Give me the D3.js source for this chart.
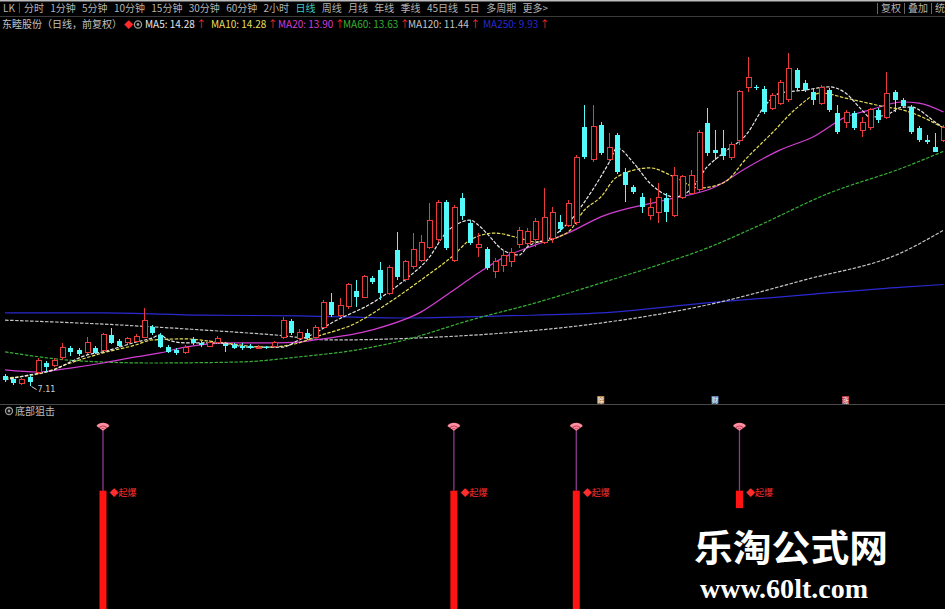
<!DOCTYPE html>
<html>
<head>
<meta charset="utf-8">
<script src="https://cdn.jsdelivr.net/npm/d3@7"></script>
<style>
html,body{margin:0;padding:0;background:#000;overflow:hidden}
svg{display:block}
</style>
</head>
<body>
<svg id="chart" width="945" height="609"></svg>
<script>
// ---- daily bars (前复权) ----
const openP = [7.39,7.31,7.17,7.36,7.50,7.75,7.69,7.89,8.17,8.11,
  8.03,8.17,8.11,8.53,8.36,8.31,8.36,8.47,8.75,8.53,
  8.19,8.11,8.03,8.42,8.31,8.22,8.31,8.28,8.25,8.22,
  8.22,8.17,8.19,8.22,8.47,8.92,8.44,8.58,8.47,8.75,
  9.44,9.08,9.31,9.75,9.58,10.11,10.33,9.69,10.89,10.06,
  10.42,10.61,10.97,11.17,12.22,10.61,12.33,11.64,10.97,10.92,
  10.28,10.47,10.56,11.03,11.08,11.17,11.11,11.22,11.67,11.58,
  11.64,14.31,13.39,14.36,13.39,14.08,13.06,12.64,12.36,11.86,
  11.92,12.33,11.86,12.36,12.47,12.56,14.42,13.67,13.72,13.47,
  13.94,15.39,15.42,15.36,14.83,14.97,15.06,15.89,15.53,15.28,
  14.97,15.33,14.69,14.44,14.69,14.22,14.28,14.78,14.58,15.28,
  15.06,14.86,14.28,13.94,13.75,13.94];
const highP = [7.44,7.36,7.33,7.42,7.89,7.81,7.89,8.31,8.22,8.17,
  8.47,8.22,8.58,8.72,8.42,8.47,8.56,9.28,8.81,8.58,
  8.25,8.17,8.25,8.47,8.36,8.39,8.50,8.33,8.31,8.31,
  8.28,8.25,8.22,8.36,9.03,8.97,8.69,8.69,8.81,9.50,
  9.69,9.56,9.97,10.06,10.19,10.17,10.56,10.47,11.39,10.61,
  11.36,11.31,12.19,12.28,12.28,12.14,12.47,11.72,11.36,10.97,
  10.67,10.89,10.94,11.53,11.50,11.78,12.61,12.08,11.86,12.28,
  13.53,14.92,14.92,14.44,14.14,14.14,13.17,12.69,12.47,12.33,
  12.75,12.47,13.19,12.97,13.11,14.22,14.83,14.22,14.22,13.89,
  15.33,16.25,15.47,15.44,15.25,15.61,16.36,15.94,15.61,15.39,
  15.47,15.39,14.92,14.78,14.75,14.58,14.83,14.83,15.83,15.33,
  15.11,14.92,14.33,14.08,14.14,14.36];
const lowP = [7.22,7.14,7.14,7.11,7.44,7.50,7.64,7.83,7.94,7.94,
  8.00,8.00,8.08,8.28,8.19,8.28,8.33,8.44,8.53,8.17,
  8.03,7.97,8.00,8.25,8.19,8.19,8.28,8.06,8.14,8.11,
  8.14,8.14,8.14,8.19,8.42,8.53,8.39,8.39,8.44,8.72,
  9.03,9.03,9.25,9.31,9.56,9.94,9.50,9.64,10.06,10.00,
  10.36,10.56,10.92,11.11,10.89,10.56,11.72,11.03,10.69,10.33,
  10.11,10.28,10.42,10.94,11.00,10.97,11.06,11.08,11.39,11.53,
  11.58,13.42,13.33,13.53,13.33,13.00,12.22,12.44,11.92,11.72,
  11.64,11.67,11.81,12.31,12.42,12.50,13.50,13.39,13.39,13.39,
  13.81,15.28,15.33,14.67,14.78,14.92,15.00,15.33,15.28,14.92,
  14.92,14.72,14.11,14.28,14.22,14.03,14.22,14.42,14.53,14.72,
  14.83,14.11,13.89,13.83,13.61,13.89];
const closeP = [7.28,7.19,7.28,7.22,7.81,7.64,7.83,8.17,8.06,8.00,
  8.33,8.03,8.53,8.31,8.22,8.42,8.50,8.94,8.58,8.19,
  8.06,8.03,8.19,8.31,8.25,8.33,8.44,8.22,8.17,8.17,
  8.17,8.19,8.17,8.31,8.94,8.58,8.61,8.44,8.75,9.42,
  9.08,9.36,9.92,9.58,10.14,10.00,9.69,10.39,10.14,10.56,
  10.89,11.11,11.72,12.22,10.94,12.08,11.83,11.08,11.03,10.39,
  10.56,10.75,10.83,11.44,11.39,11.67,11.78,11.94,11.47,12.19,
  13.47,13.47,14.31,13.58,13.75,13.06,12.69,12.50,12.08,12.08,
  12.36,11.94,12.97,12.92,12.97,14.14,13.58,13.58,13.50,13.81,
  15.28,15.69,15.39,14.72,15.19,15.53,15.94,15.39,15.33,15.06,
  15.39,14.78,14.17,14.72,14.28,14.42,14.78,14.50,15.25,15.06,
  14.89,14.17,13.94,13.89,13.61,14.28];

// ---- moving averages, sampled by bar index ----
const ma5Idx = [0,3,6,8,10,12,14,16,18,19,20,22,26,30,34,36,38,40,45,49,52,54,56,57,58,59,61,63,64,67,69,72,74,75,77,79,81,82,84,86,88,91,93,95,98,101,103,105,106,108,110,111,114,115];
const ma5Val = [7.28,7.42,7.56,7.78,7.97,8.06,8.19,8.33,8.44,8.53,8.39,8.31,8.31,8.19,8.19,8.39,8.58,8.86,9.42,10.06,10.69,11.36,11.67,11.72,11.58,11.36,10.89,10.75,10.97,11.25,11.64,12.56,13.31,13.72,13.31,12.75,12.42,12.36,12.56,13.19,13.58,14.14,14.86,15.25,15.33,15.42,15.25,14.78,14.58,14.64,14.86,14.86,14.44,14.28];
const ma10Idx = [0,5,8,12,16,18,22,26,32,36,38,43,47,51,55,57,60,63,65,69,71,73,75,79,82,85,88,91,94,97,100,103,108,110,112,115];
const ma10Val = [7.33,7.50,7.75,8.03,8.25,8.39,8.42,8.33,8.19,8.31,8.47,8.86,9.42,10.06,10.75,11.17,11.36,11.22,11.11,11.39,12.00,12.36,12.92,13.17,12.92,12.61,12.75,13.47,14.14,14.83,15.25,15.11,14.86,14.78,14.62,14.28];
const ma20Idx = [0,4,8,12,16,19,22,28,33,36,38,45,51,55,58,61,65,69,73,81,87,91,95,99,103,106,110,112,115];
const ma20Val = [7.56,7.50,7.61,7.75,7.92,8.03,8.19,8.31,8.31,8.33,8.39,8.67,9.17,9.78,10.25,10.67,11.03,11.36,11.81,12.28,12.64,13.19,13.67,14.03,14.58,14.78,15.00,14.97,14.72];
const ma60Idx = [0,9,18,29,36,43,49,57,65,73,80,86,92,101,110,115];
const ma60Val = [8.06,7.81,7.75,7.78,7.92,8.11,8.39,8.94,9.42,9.97,10.47,10.94,11.53,12.47,13.17,13.63];
const ma120Idx = [0,12,24,33,40,53,61,73,86,98,110,115];
const ma120Val = [8.94,8.83,8.67,8.53,8.39,8.47,8.58,8.86,9.36,10.06,10.83,11.44];
const ma250Idx = [0,12,24,36,49,61,73,86,98,110,115];
const ma250Val = [9.14,9.14,9.08,9.06,9.00,9.06,9.14,9.42,9.64,9.86,9.93];

const maNames = ["MA5","MA10","MA20","MA60","MA120","MA250"];
const maLegendVal = ["14.28","14.28","13.90","13.63","11.44","9.93"];
const maColors = ["#e6e6e6","#e8df5a","#d23ed2","#35b035","#c4c4c4","#2a2ad0"];

// ---- toolbar / titles ----
const periodTabs = ["LK","分时","1分钟","5分钟","10分钟","15分钟","30分钟","60分钟","2小时","日线","周线","月线","年线","季线","45日线","5日","多周期","更多>"];
const rightTabs = ["复权","叠加","统"];
const stockTitle = "东睦股份（日线，前复权）";
const subTitle = "底部狙击";

// ---- signal sub-chart ----
const sigIdx = [12,55,70,90];
const sigTop = [61,61,61,61];
const sigBottom = [0,0,0,52];
const sigIcon = [94,94,94,94];
const sigLabel = "◆起爆";

// ---- event markers on the price axis ----
const eventIdx = [73,87,103];
const eventChar = ["除","财","涨"];
const eventColor = ["#d69a5c","#6d95d4","#d8404e"];

const W = 945, H = 609;
const svg = d3.select("#chart");
svg.append("rect").attr("width", W).attr("height", H).attr("fill", "#000");

const n = closeP.length;
const step = 8.16;
const x = d3.scaleBand().domain(d3.range(n)).range([1, 1 + step * n])
  .paddingInner(0.36).paddingOuter(0.18);
const cx = i => x(i) + x.bandwidth() / 2;
const y = d3.scaleLinear().domain([7, 17]).range([390, 30]);
const yS = d3.scaleLinear().domain([0, 100]).range([609, 415]);

const cjk = "'Noto Sans CJK SC','Noto Sans',sans-serif";

// top frame line and toolbar
svg.append("rect").attr("x", 0).attr("y", 0).attr("width", W).attr("height", 1.5).attr("fill", "#bdbdbd");
svg.append("line").attr("x1", 0).attr("x2", W).attr("y1", 16.5).attr("y2", 16.5).attr("stroke", "#3a3a3a");

const tabs = svg.append("g").attr("font-family", cjk).attr("font-size", 10);
let tx = 3;
periodTabs.forEach((t, k) => {
  const el = tabs.append("text").attr("x", tx).attr("y", 12)
    .attr("fill", t === "日线" ? "#3fc8c8" : "#b4b4b4").text(t);
  const w = el.node().getComputedTextLength();
  if (k === 0) {
    tabs.append("line").attr("x1", tx + w + 4.5).attr("x2", tx + w + 4.5).attr("y1", 3).attr("y2", 13).attr("stroke", "#555");
  }
  tx += w + (k === 0 ? 9 : 6.3);
});
tabs.append("line").attr("x1", 877.5).attr("x2", 877.5).attr("y1", 3).attr("y2", 14).attr("stroke", "#666");
let rx = 881;
rightTabs.forEach((t, k) => {
  const el = tabs.append("text").attr("x", rx).attr("y", 12).attr("fill", "#b4b4b4").text(t);
  const w = el.node().getComputedTextLength();
  if (k < rightTabs.length - 1) {
    tabs.append("line").attr("x1", rx + w + 3.5).attr("x2", rx + w + 3.5).attr("y1", 3).attr("y2", 14).attr("stroke", "#666");
  }
  rx += w + 7;
});

// legend row
const leg = svg.append("g").attr("font-family", cjk).attr("font-size", 10);
leg.append("text").attr("x", 2).attr("y", 28).attr("fill", "#c2c2c2").text(stockTitle);
leg.append("text").attr("x", 124).attr("y", 28).attr("fill", "#ff2a2a").attr("font-size", 9).text("◆");
leg.append("circle").attr("cx", 138).attr("cy", 24.5).attr("r", 3.6).attr("fill", "none").attr("stroke", "#9a9a9a").attr("stroke-width", 1.3);
leg.append("circle").attr("cx", 138).attr("cy", 24.5).attr("r", 1.4).attr("fill", "#9a9a9a");
const legX = [145, 211, 278, 343, 408, 483];
maNames.forEach((m, k) => {
  const el = leg.append("text").attr("x", legX[k]).attr("y", 28).attr("fill", maColors[k])
    .text(m + ": " + maLegendVal[k]);
  const w = el.node().getComputedTextLength();
  leg.append("text").attr("x", legX[k] + w + 1.5).attr("y", 28).attr("fill", "#ff2a2a").text("↑");
});

// main price panel
const clip = svg.append("defs").append("clipPath").attr("id", "mainClip");
clip.append("rect").attr("x", 0).attr("y", 32).attr("width", W).attr("height", 371);
const main = svg.append("g").attr("clip-path", "url(#mainClip)");

const line = d3.line().x(d => cx(d[0])).y(d => y(d[1])).curve(d3.curveMonotoneX);
const maSeries = [
  [ma250Idx, ma250Val, 5], [ma120Idx, ma120Val, 4], [ma60Idx, ma60Val, 3],
  [ma20Idx, ma20Val, 2], [ma10Idx, ma10Val, 1], [ma5Idx, ma5Val, 0]
];
maSeries.forEach(([idx, val, k]) => {
  main.append("path").datum(idx.map((d, j) => [d, val[j]]))
    .attr("fill", "none").attr("stroke", maColors[k]).attr("stroke-width", 1.2)
    .attr("stroke-dasharray", (k === 0 || k === 1 || k === 3 || k === 4) ? "3.5,1.5" : null)
    .attr("d", line);
});

const upColor = "#ea3b3b", downColor = "#54fafa";
const bars = main.append("g").attr("shape-rendering", "crispEdges");
d3.range(n).forEach(i => {
  const up = closeP[i] >= openP[i];
  const col = up ? upColor : downColor;
  const xc = Math.round(cx(i)) + 0.5;
  bars.append("line").attr("x1", xc).attr("x2", xc)
    .attr("y1", y(highP[i])).attr("y2", y(lowP[i])).attr("stroke", col);
  const top = y(Math.max(openP[i], closeP[i]));
  const bot = y(Math.min(openP[i], closeP[i]));
  const bw = Math.round(x.bandwidth());
  bars.append("rect")
    .attr("x", xc - bw / 2).attr("y", top)
    .attr("width", bw).attr("height", Math.max(1, bot - top))
    .attr("fill", up ? "#000" : col)
    .attr("stroke", up ? col : "none");
});

// lowest price marker
const lo = d3.minIndex(lowP);
main.append("line").attr("x1", cx(lo) + 2).attr("x2", cx(lo) + 7)
  .attr("y1", y(lowP[lo]) + 0.5).attr("y2", y(lowP[lo]) + 3.5).attr("stroke", "#cfcfcf");
main.append("text").attr("x", cx(lo) + 8).attr("y", y(lowP[lo]) + 6)
  .attr("fill", "#cfcfcf").attr("font-size", 8).attr("font-family", "'DejaVu Sans',sans-serif")
  .text(lowP[lo].toFixed(2));

// event markers
eventIdx.forEach((e, k) => {
  const g = svg.append("g");
  g.append("rect").attr("x", cx(e) - 3.5).attr("y", 396).attr("width", 7).attr("height", 7.5)
    .attr("fill", eventColor[k]).attr("opacity", 0.85);
  g.append("text").attr("x", cx(e)).attr("y", 402.5).attr("text-anchor", "middle")
    .attr("font-size", 6.5).attr("font-family", cjk).attr("fill", "#fff").text(eventChar[k]);
});

// panel separator
svg.append("line").attr("x1", 0).attr("x2", W).attr("y1", 404.5).attr("y2", 404.5).attr("stroke", "#4a4a4a").attr("stroke-width", 1.2);

// signal sub-chart
const sub = svg.append("g");
sub.append("circle").attr("cx", 9).attr("cy", 411).attr("r", 3.5).attr("fill", "none").attr("stroke", "#9a9a9a").attr("stroke-width", 1.3);
sub.append("circle").attr("cx", 9).attr("cy", 411).attr("r", 1.4).attr("fill", "#9a9a9a");
sub.append("text").attr("x", 15).attr("y", 415).attr("font-family", cjk).attr("font-size", 10)
  .attr("fill", "#bdbdbd").text(subTitle);

const fan = d3.arc();
sigIdx.forEach((s, k) => {
  const xc = cx(s);
  sub.append("line").attr("x1", xc).attr("x2", xc)
    .attr("y1", yS(sigIcon[k])).attr("y2", yS(sigTop[k]))
    .attr("stroke", "#8c3a8c").attr("stroke-width", 1.3);
  sub.append("rect").attr("x", xc - 3.5).attr("y", yS(sigTop[k]))
    .attr("width", 7).attr("height", yS(sigBottom[k]) - yS(sigTop[k]))
    .attr("fill", "#ff1414");
  const ic = sub.append("g").attr("transform", `translate(${xc},${yS(sigIcon[k]) + 4})`);
  ic.append("path").attr("d", fan({innerRadius: 0, outerRadius: 8, startAngle: -0.95, endAngle: 0.95})).attr("fill", "#ff8f9f");
  ic.append("path").attr("d", fan({innerRadius: 4.2, outerRadius: 5.2, startAngle: -0.95, endAngle: 0.95})).attr("fill", "#c04060");
  ic.append("path").attr("d", fan({innerRadius: 1.8, outerRadius: 2.6, startAngle: -0.95, endAngle: 0.95})).attr("fill", "#c04060");
  sub.append("text").attr("x", xc + 6.5).attr("y", yS(sigTop[k]) + 5)
    .attr("font-family", cjk).attr("font-size", 9).attr("fill", "#ff2e2e").text(sigLabel);
});

// site mark
const mark = svg.append("g").attr("fill", "#fff");
mark.append("text").attr("x", 694).attr("y", 562).attr("font-family", cjk)
  .attr("font-size", 37).attr("font-weight", 700).attr("textLength", 194)
  .attr("lengthAdjust", "spacingAndGlyphs").text("乐淘公式网");
mark.append("text").attr("x", 700).attr("y", 598).attr("font-family", "'Liberation Serif',serif")
  .attr("font-size", 27).attr("font-weight", 700).attr("textLength", 168)
  .attr("lengthAdjust", "spacingAndGlyphs").text("www.60lt.com");
</script>
</body>
</html>
